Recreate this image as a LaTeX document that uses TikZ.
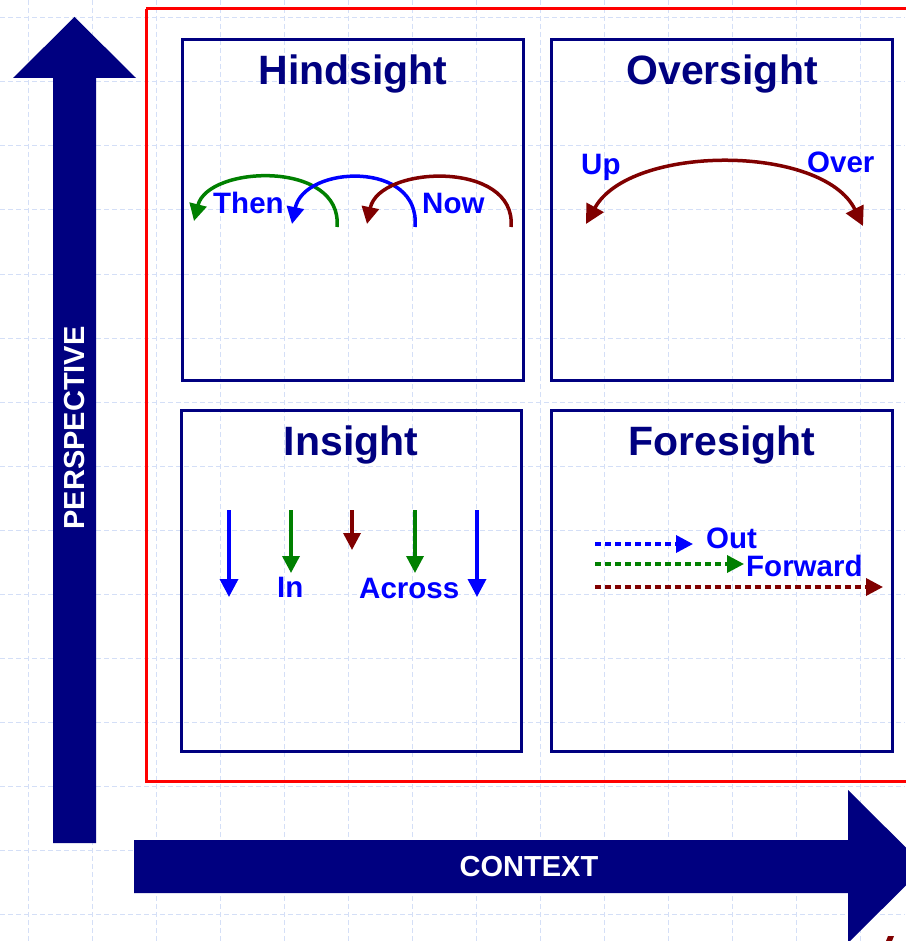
\documentclass[tikz,border=0pt]{standalone}
\usepackage{fontspec}
\setmainfont{Liberation Sans}
\usetikzlibrary{arrows.meta}
\definecolor{navy}{RGB}{0,0,128}
\definecolor{dred}{RGB}{128,0,0}
\definecolor{dgreen}{RGB}{0,128,0}
\definecolor{pblue}{RGB}{0,0,255}
\definecolor{gridc}{RGB}{212,223,247}
\begin{document}
\begin{tikzpicture}[x=1pt,y=-1pt,
  gridline/.style={draw=gridc,line width=1pt,dash pattern=on 5pt off 3pt},
  quad/.style={draw=navy,line width=3pt},
  frame/.style={draw=red,line width=3pt},
  bigarrow/.style={fill=navy,draw=none},
  axislabel/.style={font=\fontsize{29}{29}\selectfont\bfseries,text=white,inner sep=0pt},
  title/.style={font=\fontsize{41}{41}\selectfont\bfseries,text=navy,anchor=base,inner sep=0pt},
  lbl/.style={font=\fontsize{29.5}{29.5}\selectfont\bfseries,text=pblue,anchor=base west,inner sep=0pt},
  arc/.style={line width=3.5pt,-{Triangle[length=17pt,width=17pt]}},
  darc/.style={line width=3.5pt,{Triangle[length=19pt,width=19pt]}-{Triangle[length=19pt,width=19pt]}},
  vdown/.style={line width=3.5pt,-{Triangle[length=18pt,width=18pt]}},
  vshort/.style={line width=3.5pt,-{Triangle[length=17pt,width=17pt]}},
  dashar/.style={line width=3.5pt,dash pattern=on 6pt off 4pt,-{Triangle[length=17pt,width=17pt]}}
]
\useasboundingbox (0,0) rectangle (905,941);
\fill[white] (0,0) rectangle (905,941);
% grid
\foreach \k in {0,...,13} {
  \draw[gridline] (28+64*\k,0) -- (28+64*\k,941);
}
\foreach \k in {0,...,14} {
  \draw[gridline] (0,18+64*\k) -- (905,18+64*\k);
}
% outer red frame
\draw[frame] (146,9) -- (910,9) (910,781) -- (146,781) -- (146,9);
% quadrant boxes
\draw[quad] (182,40) rectangle (523,380);
\draw[quad] (551,40) rectangle (892,380);
\draw[quad] (181,410) rectangle (521,751);
\draw[quad] (551,410) rectangle (892,751);
% axis arrows
\fill[bigarrow] (53,843) -- (53,78) -- (13,78) -- (74.5,17) -- (136,78) -- (96,78) -- (96,843) -- cycle;
\fill[bigarrow] (134,840) -- (848,840) -- (848,790) -- (925,866.5) -- (848,943) -- (848,893) -- (134,893) -- cycle;
\node[axislabel,rotate=90] (persp) at (74.5,428) {PERSPECTIVE};
\node[axislabel] (ctx) at (529,866.5) {CONTEXT};
% small dark red mark at bottom right
\fill[dred] (888,936) -- (894,936) -- (892,941) -- (886,941) -- cycle;
% titles
\node[title] (hind) at (353,85) {Hindsight};
\node[title] (over) at (722,85) {Oversight};
\node[title] (ins) at (351,455) {Insight};
\node[title] (fore) at (722,455) {Foresight};
% Hindsight
\draw[arc,dgreen] (337,227) .. controls (343,160) and (208,165) .. (194,221);
\draw[arc,pblue] (415,227) .. controls (421,160) and (304,165) .. (292,224);
\draw[arc,dred] (511,227) .. controls (517,160) and (379,165) .. (367,224);
\node[lbl] (then) at (213,214) {Then};
\node[lbl] (now) at (422,214) {Now};
% Oversight
\draw[darc,dred] (586,224) .. controls (630,144) and (823,144) .. (863,226);
\node[lbl] (up) at (581,175) {Up};
\node[lbl] (ovr) at (807,173) {Over};
% Insight
\coordinate (i1a) at (229,510); \coordinate (i1b) at (229,597);
\coordinate (i2a) at (291,510); \coordinate (i2b) at (291,573);
\coordinate (i3a) at (352,510); \coordinate (i3b) at (352,550);
\coordinate (i4a) at (415,510); \coordinate (i4b) at (415,573);
\coordinate (i5a) at (477,510); \coordinate (i5b) at (477,597);
\draw[vdown,pblue] (i1a) -- (i1b);
\draw[vshort,dgreen] (i2a) -- (i2b);
\draw[vshort,dred] (i3a) -- (i3b);
\draw[vshort,dgreen] (i4a) -- (i4b);
\draw[vdown,pblue] (i5a) -- (i5b);
\node[lbl] (in) at (277,597) {In};
\node[lbl] (across) at (359,598) {Across};
% Foresight
\coordinate (f1a) at (595,544); \coordinate (f1b) at (693,544);
\coordinate (f2a) at (595,564); \coordinate (f2b) at (744,564);
\coordinate (f3a) at (595,587); \coordinate (f3b) at (883,587);
\draw[dashar,pblue] (f1a) -- (f1b);
\draw[dashar,dgreen] (f2a) -- (f2b);
\draw[dashar,dred] (f3a) -- (f3b);
\node[lbl] (out) at (706,548) {Out};
\node[lbl] (fwd) at (746,576) {Forward};
\end{tikzpicture}
\end{document}
